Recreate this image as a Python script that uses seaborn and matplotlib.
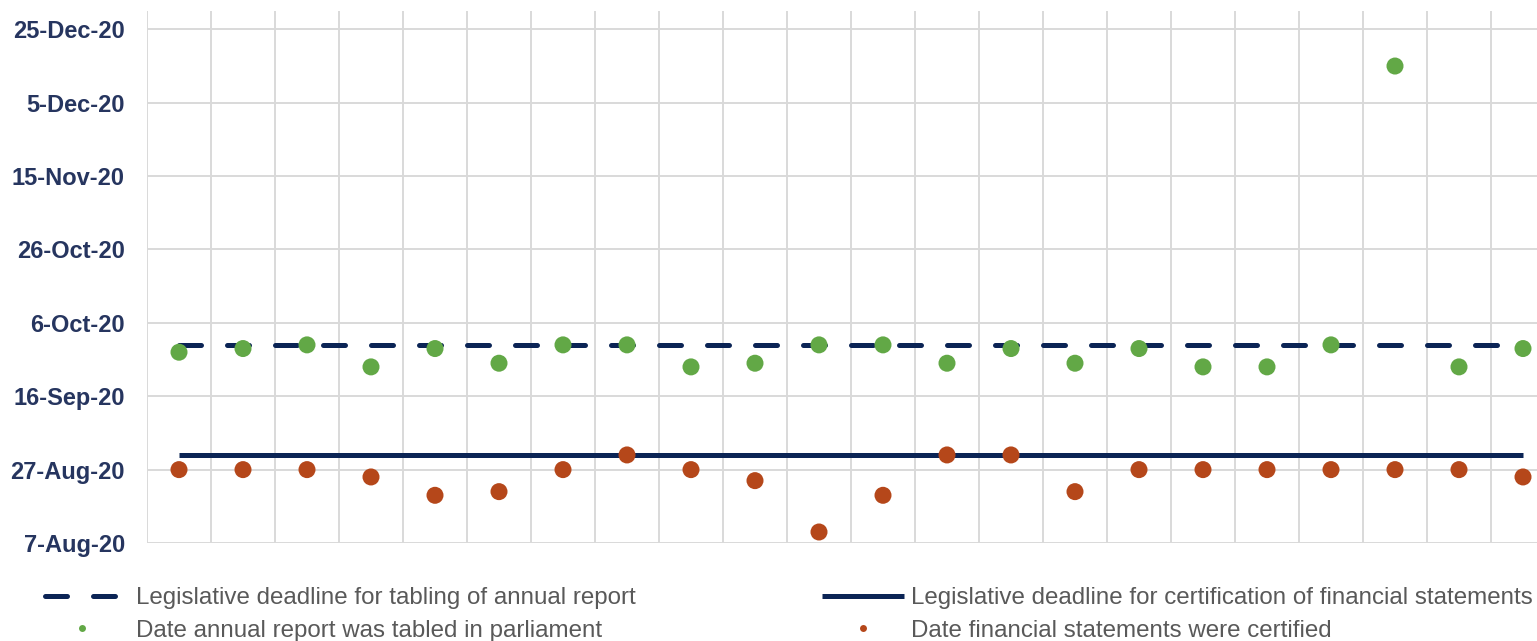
import matplotlib
matplotlib.use('Agg')
import matplotlib.pyplot as plt
import matplotlib.dates as mdates
from matplotlib.lines import Line2D
import numpy as np
import pandas as pd
import seaborn as sns

# one point per entity, x labels are not shown on the chart
entities = ['E%d' % i for i in range(1, 23)]

tabled = ['2020-09-28', '2020-09-29', '2020-09-30', '2020-09-24', '2020-09-29', '2020-09-25',
          '2020-09-30', '2020-09-30', '2020-09-24', '2020-09-25', '2020-09-30', '2020-09-30',
          '2020-09-25', '2020-09-29', '2020-09-25', '2020-09-29', '2020-09-24', '2020-09-24',
          '2020-09-30', '2020-12-15', '2020-09-24', '2020-09-29']

certified = ['2020-08-27', '2020-08-27', '2020-08-27', '2020-08-25', '2020-08-20', '2020-08-21',
             '2020-08-27', '2020-08-31', '2020-08-27', '2020-08-24', '2020-08-10', '2020-08-20',
             '2020-08-31', '2020-08-31', '2020-08-21', '2020-08-27', '2020-08-27', '2020-08-27',
             '2020-08-27', '2020-08-27', '2020-08-27', '2020-08-25']

tabling_deadline = '2020-09-30'
cert_deadline = '2020-08-31'

ytick_dates = ['2020-08-07', '2020-08-27', '2020-09-16', '2020-10-06',
               '2020-10-26', '2020-11-15', '2020-12-05', '2020-12-25']
y_min, y_max = '2020-08-07', '2020-12-30'

labels = ['Legislative deadline for tabling of annual report',
          'Date annual report was tabled in parliament',
          'Legislative deadline for certification of financial statements',
          'Date financial statements were certified']

navy = '#0b2455'
green = '#62a846'
rust = '#b5471a'
grid_c = '#d9d9d9'

df = pd.DataFrame({
    'entity': entities,
    'tabled': pd.to_datetime(tabled),
    'certified': pd.to_datetime(certified),
    'tab_dl': pd.to_datetime([tabling_deadline] * len(entities)),
    'cert_dl': pd.to_datetime([cert_deadline] * len(entities)),
})

sns.set_style('white')
plt.rcParams['font.family'] = ['Liberation Sans', 'DejaVu Sans']

fig = plt.figure(figsize=(15.37, 6.41), dpi=100)
ax = fig.add_axes([147 / 1537, 98 / 641, 1408 / 1537, 532 / 641])

sns.lineplot(data=df, x='entity', y='tab_dl', ax=ax, color=navy, lw=3.6,
             estimator=None, errorbar=None, sort=False, zorder=3)
sns.lineplot(data=df, x='entity', y='cert_dl', ax=ax, color=navy, lw=3.6,
             estimator=None, errorbar=None, sort=False, zorder=3)
dash_line = ax.lines[0]
dash_line.set_dashes((4.4, 5.2))
dash_line.set_dash_capstyle('round')
ax.lines[1].set_solid_capstyle('butt')

sns.scatterplot(data=df, x='entity', y='tabled', ax=ax, color=green, s=150,
                edgecolor='none', zorder=4)
sns.scatterplot(data=df, x='entity', y='certified', ax=ax, color=rust, s=150,
                edgecolor='none', zorder=4)

ax.set_xlim(-0.5, len(entities) - 0.5)
ax.set_ylim(pd.Timestamp(y_min), pd.Timestamp(y_max))
ax.set_xticks(np.arange(-0.5, len(entities), 1.0))
ax.set_xticklabels([])
ax.set_yticks(pd.to_datetime(ytick_dates))
ax.yaxis.set_major_formatter(mdates.DateFormatter('%-d-%b-%y'))
ax.grid(True, color=grid_c, lw=1.4)
ax.set_axisbelow(True)
ax.tick_params(axis='both', length=0)
ax.tick_params(axis='y', pad=16, labelsize=17, labelcolor='#26355f')
for t in ax.get_yticklabels():
    t.set_fontweight('bold')
ax.set_xlabel('')
ax.set_ylabel('')
for s in ax.spines.values():
    s.set_visible(False)

h_dash = Line2D([], [], color=navy, lw=3.6, dashes=(4.4, 5.2), dash_capstyle='round')
h_solid = Line2D([], [], color=navy, lw=3.6, solid_capstyle='butt')
h_green = Line2D([], [], color=green, lw=0, marker='o', markersize=5, markeredgewidth=0)
h_rust = Line2D([], [], color=rust, lw=0, marker='o', markersize=5, markeredgewidth=0)

leg1 = fig.legend([h_dash, h_green], labels[:2], loc='upper left',
                  bbox_to_anchor=(45 / 1537, 1 - 587 / 641), frameon=False,
                  fontsize=17.4, handlelength=3.1, handletextpad=0.65,
                  labelspacing=0.45, borderpad=0, borderaxespad=0, labelcolor='#595959')
leg2 = fig.legend([h_solid, h_rust], labels[2:], loc='upper left',
                  bbox_to_anchor=(822 / 1537, 1 - 587 / 641), frameon=False,
                  fontsize=17.4, handlelength=3.4, handletextpad=0.3,
                  labelspacing=0.45, borderpad=0, borderaxespad=0, labelcolor='#595959')

fig.savefig('out.png', dpi=100)
